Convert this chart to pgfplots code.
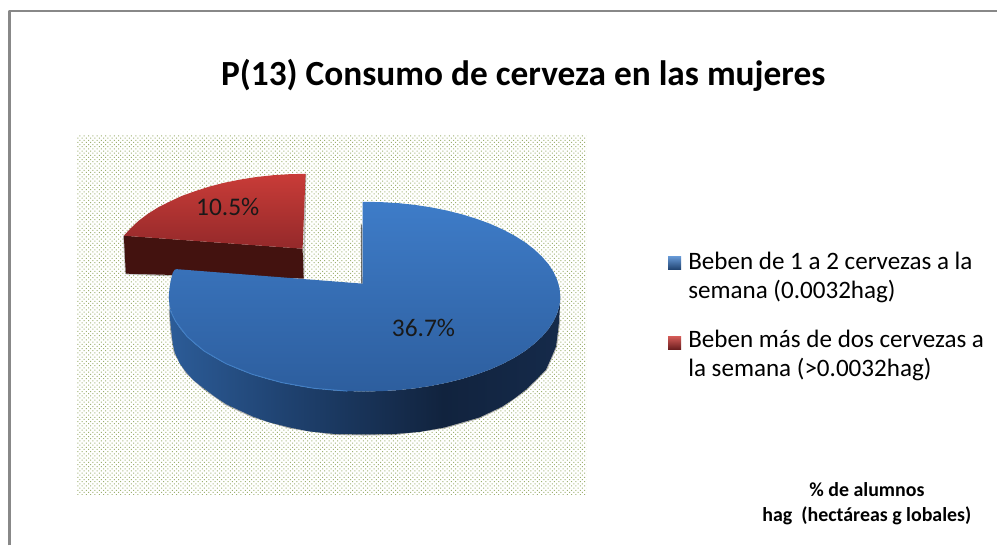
\documentclass[border=0pt]{standalone}
\usepackage{pgfplots}
\pgfplotsset{compat=1.18}
\usepackage{fontspec}
\setmainfont{Carlito}
\usetikzlibrary{patterns}
\definecolor{framegray}{HTML}{888888}
\definecolor{dotgreen}{HTML}{9DB070}
\definecolor{blueT}{HTML}{3E7CC8}
\definecolor{blueB}{HTML}{2D5E9E}
\definecolor{redT}{HTML}{C93C38}
\definecolor{redB}{HTML}{94292A}
\definecolor{redS}{HTML}{43120F}
\definecolor{rim}{HTML}{4484CC}
\definecolor{sideA}{HTML}{2C5C98}
\definecolor{sideB}{HTML}{1F4270}
\definecolor{sideC}{HTML}{11233E}
\definecolor{sideD}{HTML}{152A4A}
\pgfdeclarehorizontalshading{bluesideshade}{100bp}{%
 color(0bp)=(sideA);
 color(25bp)=(sideA);
 color(40bp)=(sideB);
 color(60bp)=(sideC);
 color(75bp)=(sideD);
 color(100bp)=(sideD)}
\pgfdeclarepatternformonly{pdots}{\pgfqpoint{-0.5bp}{-0.5bp}}{\pgfqpoint{5bp}{5bp}}{\pgfqpoint{4.3bp}{4.3bp}}{%
 \pgfpathrectangle{\pgfqpoint{0bp}{0bp}}{\pgfqpoint{1bp}{1bp}}%
 \pgfpathrectangle{\pgfqpoint{2.15bp}{2.15bp}}{\pgfqpoint{1bp}{1bp}}%
 \pgfusepath{fill}}
\pgfplotstableread{
x y
561 297
560.3 305.3
558 313.5
554.3 321.6
549.2 329.5
542.6 337.1
534.7 344.5
525.6 351.5
515.1 358.1
503.6 364.2
491 369.8
477.4 374.8
463 379.3
447.8 383.1
432 386.3
415.7 388.8
399 390.6
382.1 391.6
365 392
347.9 391.6
331 390.6
314.3 388.8
298 386.3
282.2 383.1
267 379.3
252.6 374.8
239 369.8
226.4 364.2
214.9 358.1
204.4 351.5
195.3 344.5
187.4 337.1
180.8 329.5
175.7 321.6
172 313.5
169.7 305.3
169 297
170 310
170.5 322
171.7 333
173 344
175 353
180 364
186.7 373
194 381
203 388
215 397
227 405
240 411
253 417
270 423
290 428
310 432
335 434.5
365 435
395 434.5
420 432.5
445 428
480 418
503 407
515 399
526.7 390
537 380
546.7 370
552 358
556.7 347
558.5 333
560 320
560.5 310
}\bluesidetable
\pgfplotstableread{
x y
363 284
363 202
382.1 202.4
399 203.4
415.7 205.2
432 207.7
447.8 210.9
463 214.7
477.4 219.2
491 224.2
503.6 229.8
515.1 235.9
525.6 242.5
534.7 249.5
542.6 256.9
549.2 264.5
554.3 272.4
558 280.5
560.3 288.7
561 297
560.3 305.3
558 313.5
554.3 321.6
549.2 329.5
542.6 337.1
534.7 344.5
525.6 351.5
515.1 358.1
503.6 364.2
491 369.8
477.4 374.8
463 379.3
447.8 383.1
432 386.3
415.7 388.8
399 390.6
382.1 391.6
365 392
347.9 391.6
331 390.6
314.3 388.8
298 386.3
282.2 383.1
267 379.3
252.6 374.8
239 369.8
226.4 364.2
214.9 358.1
204.4 351.5
195.3 344.5
187.4 337.1
180.8 329.5
175.7 321.6
172 313.5
169.7 305.3
169 297
169.7 288.7
171 280.5
173 273
175 270
177 269.5
}\bluetoptable
\pgfplotstableread{
x y
303 249
306 174
290 174.4
274 175.4
257 177.2
241 179.7
225 182.9
210 186.7
196 191.2
182 196.2
170 201.8
157.9 207.9
147.5 214.5
138.3 221.5
130.5 228.9
124 236
}\redtoptable
\begin{document}
\begin{tikzpicture}
\begin{axis}[
 scale only axis, width=998bp, height=546bp,
 xmin=0, xmax=998, ymin=0, ymax=546, y dir=reverse,
 hide axis, clip=false,
 every axis plot/.append style={line join=round}]
% page
\addplot[draw=none, fill=white] coordinates {(0,0)(998,0)(998,546)(0,546)} --cycle;
% frame
\addplot[framegray, line width=2.6bp] coordinates {(9.5,546)(9.5,11)(998,11)};
% plot area
\addplot[draw=none, fill=white] coordinates {(77,135)(587,135)(587,495)(77,495)} --cycle;
\addplot[draw=none, pattern=pdots, pattern color=dotgreen] coordinates {(77,135)(587,135)(587,495)(77,495)} --cycle;
% soft shadows
\addplot[black, opacity=0.3, line width=2.2bp] coordinates {(170,310)(171.7,333)(175,353)(186.7,373)(203,388)(227,405)(253,417)(290,428)(335,434.5)(365,435)(395,434.5)(445,428)(480,418)(503,407)(526.7,390)(546.7,370)(556.7,347)(560,320)};
\addplot[black, opacity=0.25, line width=1.6bp] coordinates {(124,236)(126,274)(175,276)};
\addplot[black, opacity=0.25, line width=1.6bp] coordinates {(306,174)(304,279)};
% red side
\addplot[draw=none, fill=redS] coordinates {(124,236)(303,249)(304,279)(126,274)} --cycle;
% red top
\addplot[draw=none, top color=redT, bottom color=redB] table {\redtoptable} --cycle;
% blue shadow in the notch
\addplot[black!80, line width=1.4bp, opacity=0.7] coordinates {(362,225)(362.3,284)};
% blue side
\addplot[draw=none, shading=bluesideshade] table {\bluesidetable} --cycle;
% blue top
\addplot[draw=none, top color=blueT, bottom color=blueB] table {\bluetoptable} --cycle;
% rim
\addplot[rim, line width=1bp, opacity=0.8] coordinates {(170,310)(175.7,321.6)(187.4,337.1)(204.4,351.5)(226.4,364.2)(252.6,374.8)(282.2,383.1)(314.3,388.8)(347.9,391.6)};
% legend keys
\addplot[draw=none, top color=blueT!80!white, bottom color=blueB!70!black] coordinates {(669,257)(682,257)(682,270)(669,270)} --cycle;
\addplot[draw=none, top color=redT!85!white, bottom color=redB!70!black] coordinates {(669,337)(682,337)(682,350)(669,350)} --cycle;
% text
\node[anchor=base, inner sep=0, font=\fontsize{35.5}{35.5}\selectfont\bfseries] at (axis cs:524,86) {P(13) Consumo de cerveza en las mujeres};
\node[anchor=base, inner sep=0, font=\fontsize{25.5}{25.5}\selectfont, text=black!90] at (axis cs:228,216) {10.5\%};
\node[anchor=base, inner sep=0, font=\fontsize{25.5}{25.5}\selectfont, text=black!90] at (axis cs:424,337) {36.7\%};
\node[anchor=base west, inner sep=0, font=\fontsize{25.2}{25.2}\selectfont] at (axis cs:689,270) {Beben de 1 a 2 cervezas a la};
\node[anchor=base west, inner sep=0, font=\fontsize{25.2}{25.2}\selectfont] at (axis cs:689,299) {semana (0.0032hag)};
\node[anchor=base west, inner sep=0, font=\fontsize{25.2}{25.2}\selectfont] at (axis cs:689,348) {Beben más de dos cervezas a};
\node[anchor=base west, inner sep=0, font=\fontsize{25.2}{25.2}\selectfont] at (axis cs:689,377) {la semana (>0.0032hag)};
\node[anchor=base, inner sep=0, font=\fontsize{20}{20}\selectfont\bfseries] at (axis cs:868,497) {\% de alumnos};
\node[anchor=base, inner sep=0, font=\fontsize{20}{20}\selectfont\bfseries] at (axis cs:868,522) {hag\ \ (hectáreas g lobales)};
\end{axis}
\end{tikzpicture}
\end{document}
